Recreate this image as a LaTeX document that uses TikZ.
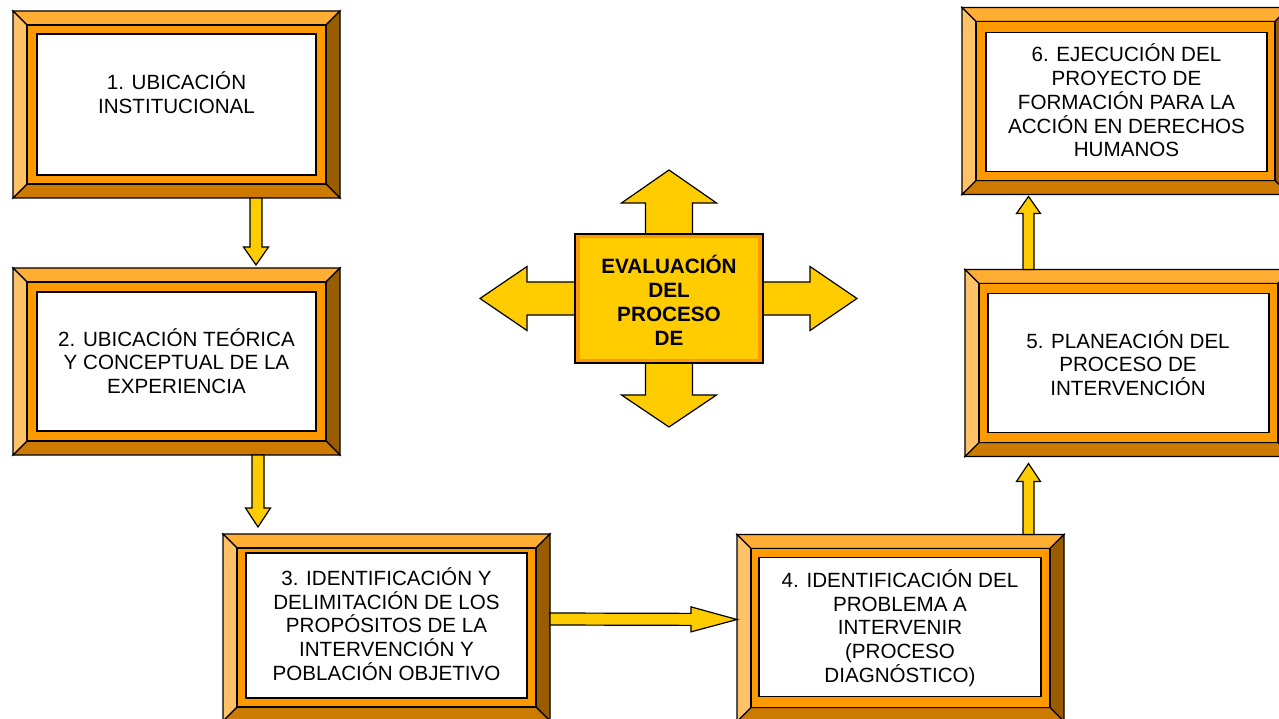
\documentclass[tikz,border=0pt]{standalone}
\usepackage{fontspec}
\setmainfont{Liberation Sans}
\usetikzlibrary{calc}
\definecolor{bvtop}{HTML}{FFAD33}
\definecolor{bvleft}{HTML}{FFC266}
\definecolor{bvbot}{HTML}{CC7A00}
\definecolor{bvright}{HTML}{995C00}
\definecolor{band}{HTML}{FF9900}
\definecolor{arrowy}{HTML}{FFCC00}
\tikzset{
  frame/.style={draw=none, minimum width=327pt, minimum height=187pt, inner sep=0pt, outer sep=0pt},
  edge/.style={draw=black, line width=1.1pt, line join=miter},
  boxtext/.style={font=\fontsize{20.6}{23.8}\selectfont, align=center, inner sep=0pt, text=black},
  evtext/.style={font=\bfseries\fontsize{20.7}{24}\selectfont, align=center, inner sep=0pt, text=black},
  arrowst/.style={fill=arrowy, draw=black, line width=1.2pt, line join=miter},
  evbox/.style={draw=black, line width=1.2pt, fill=band, minimum width=188pt, minimum height=129pt, inner sep=0pt, outer sep=0pt},
}
% bevelled frame around node #1, white panel insets #2 #3 #4 #5 (left top right bottom)
\newcommand{\bevelframe}[5]{%
  \path (#1.north west) coordinate (#1-o1) (#1.north east) coordinate (#1-o2)
        (#1.south east) coordinate (#1-o3) (#1.south west) coordinate (#1-o4);
  \path ([shift={(14pt,-14pt)}]#1.north west) coordinate (#1-i1)
        ([shift={(-14pt,-14pt)}]#1.north east) coordinate (#1-i2)
        ([shift={(-14pt,14pt)}]#1.south east) coordinate (#1-i3)
        ([shift={(14pt,14pt)}]#1.south west) coordinate (#1-i4);
  \filldraw[fill=bvtop, edge] (#1-o1) -- (#1-o2) -- (#1-i2) -- (#1-i1) -- cycle;
  \filldraw[fill=bvright, edge] (#1-o2) -- (#1-o3) -- (#1-i3) -- (#1-i2) -- cycle;
  \filldraw[fill=bvbot, edge] (#1-o3) -- (#1-o4) -- (#1-i4) -- (#1-i3) -- cycle;
  \filldraw[fill=bvleft, edge] (#1-o4) -- (#1-o1) -- (#1-i1) -- (#1-i4) -- cycle;
  \filldraw[fill=band, edge] (#1-i1) rectangle (#1-i3);
  \filldraw[fill=white, edge] ([shift={(#2pt,-#3pt)}]#1.north west) rectangle ([shift={(-#4pt,#5pt)}]#1.south east);
}
% block arrow from #1 to tip #2: half shaft #3, half head #4, head length #5
\newcommand{\blockarrow}[5]{%
  \draw[arrowst] let \p1=#1, \p2=#2,
     \n3={veclen(\x2-\x1,\y2-\y1)},
     \n1={(\x2-\x1)/\n3}, \n2={(\y2-\y1)/\n3} in
     ({\x1-\n2*#3},{\y1+\n1*#3}) --
     ({\x2-\n1*#5-\n2*#3},{\y2-\n2*#5+\n1*#3}) --
     ({\x2-\n1*#5-\n2*#4},{\y2-\n2*#5+\n1*#4}) --
     (\x2,\y2) --
     ({\x2-\n1*#5+\n2*#4},{\y2-\n2*#5-\n1*#4}) --
     ({\x2-\n1*#5+\n2*#3},{\y2-\n2*#5-\n1*#3}) --
     ({\x1+\n2*#3},{\y1-\n1*#3}) -- cycle;
}
\begin{document}
\begin{tikzpicture}[x=1pt, y=-1pt]
\path[use as bounding box, clip] (0,0) rectangle (1279,719);
\fill[white] (0,0) rectangle (1279,719);

% frames
\node[frame] (b1) at (176.5,104.5) {};
\node[frame] (b2) at (176.5,361.5) {};
\node[frame] (b3) at (386.5,627.5) {};
\node[frame] (b4) at (900.5,628) {};
\node[frame] (b5) at (1128.5,363) {};
\node[frame] (b6) at (1125.5,101) {};
\bevelframe{b1}{24}{23}{24}{23}
\bevelframe{b2}{24}{24}{24}{24}
\bevelframe{b3}{23}{19}{23}{23}
\bevelframe{b4}{22}{23}{23}{25}
\bevelframe{b5}{23}{24}{23}{24}
\bevelframe{b6}{24}{25}{22}{23}

% texts
\node[boxtext] (t1) at (176.5,93) {1. UBICACIÓN\\INSTITUCIONAL};
\node[boxtext] (t2) at (176.5,361) {2. UBICACIÓN TEÓRICA\\Y CONCEPTUAL DE LA\\EXPERIENCIA};
\node[boxtext] (t3) at (386.5,624) {3. IDENTIFICACIÓN Y\\DELIMITACIÓN DE LOS\\PROPÓSITOS DE LA\\INTERVENCIÓN Y\\POBLACIÓN OBJETIVO};
\node[boxtext] (t4) at (900,628) {4. IDENTIFICACIÓN DEL\\PROBLEMA A\\INTERVENIR\\(PROCESO\\DIAGNÓSTICO)};
\node[boxtext] (t5) at (1128,363) {5. PLANEACIÓN DEL\\PROCESO DE\\INTERVENCIÓN};
\node[boxtext] (t6) at (1126.5,100.5) {6. EJECUCIÓN DEL\\PROYECTO DE\\FORMACIÓN PARA LA\\ACCIÓN EN DERECHOS\\HUMANOS};

% flow arrows
\blockarrow{([xshift=79.5pt]b1.south)}{([xshift=79.5pt,yshift=3pt]b2.north)}{6pt}{12.5pt}{18pt}
\blockarrow{([xshift=81.5pt]b2.south)}{([xshift=-128.5pt,yshift=7pt]b3.north)}{6pt}{12.5pt}{19pt}
\blockarrow{([yshift=8.5pt]b3.east)}{([yshift=8.5pt]b4.west)}{6pt}{12.5pt}{46pt}
\blockarrow{([xshift=128pt]b4.north)}{([xshift=-100pt,yshift=-7pt]b5.south)}{5.5pt}{12pt}{18pt}
\blockarrow{([xshift=-100pt]b5.north)}{([xshift=-97pt,yshift=-2pt]b6.south)}{5.5pt}{12pt}{17pt}

% central evaluation box with four arrows
\coordinate (evc) at (669,298.5);
\blockarrow{(evc)}{([yshift=128.5pt]evc)}{23.5pt}{47.5pt}{33pt}
\blockarrow{(evc)}{([yshift=-128.5pt]evc)}{23.5pt}{47.5pt}{32pt}
\blockarrow{(evc)}{([xshift=-189pt]evc)}{16.5pt}{32pt}{47pt}
\blockarrow{(evc)}{([xshift=188pt]evc)}{16.5pt}{32pt}{47pt}
\node[evbox] (ev) at (evc) {};
\fill[arrowy] ([shift={(5pt,-4.5pt)}]ev.north west) rectangle ([shift={(-5pt,4.5pt)}]ev.south east);
\node[evtext] (evt) at (669,300.5) {EVALUACIÓN\\DEL\\PROCESO\\DE};
\end{tikzpicture}
\end{document}
